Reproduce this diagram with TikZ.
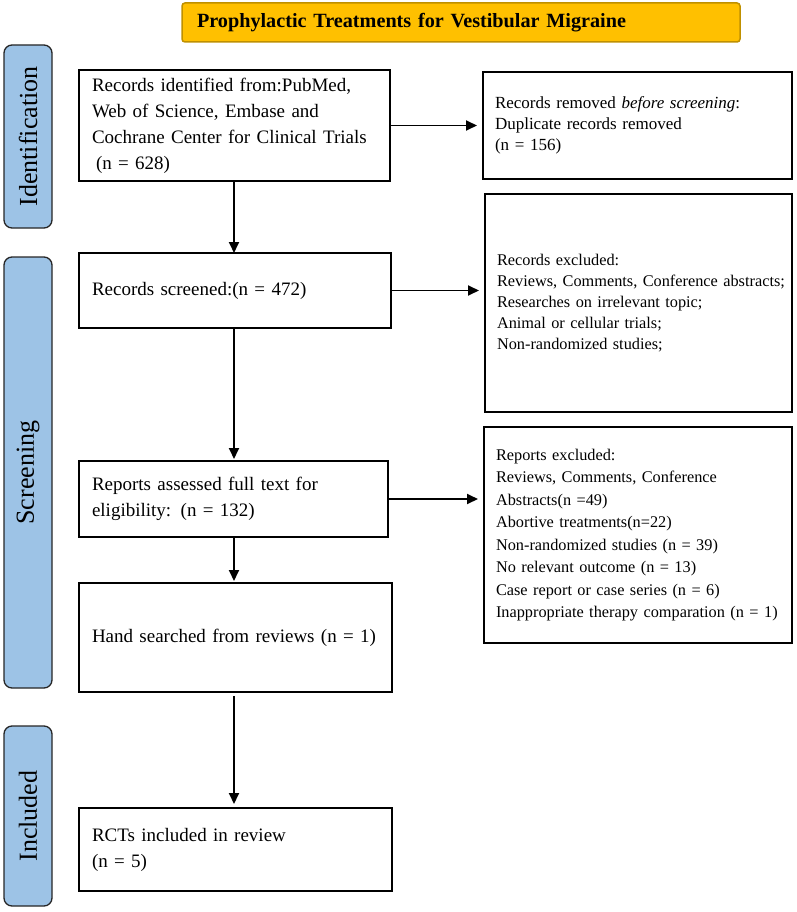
\documentclass[tikz,border=0pt]{standalone}
\usepackage{fontspec}
\setmainfont{Liberation Serif}
\usetikzlibrary{arrows.meta}
\definecolor{labelblue}{HTML}{9DC3E6}
\definecolor{titlegold}{HTML}{FFC000}
\definecolor{titleedge}{HTML}{BF9000}
\begin{document}
\begin{tikzpicture}[x=1pt,y=-1pt,
  flowbox/.style={draw=black, line width=1.8pt, rectangle, anchor=north west, align=left, inner xsep=0pt, inner ysep=0pt, outer sep=0pt},
  leftbox/.style={flowbox, font=\fontsize{19}{26}\selectfont},
  rightbox/.style={flowbox, font=\fontsize{16.3}{22}\selectfont},
  phase/.style={draw=black!85, line width=1.3pt, fill=labelblue, rounded corners=8pt, rectangle, anchor=north west, inner sep=0pt, outer sep=0pt, font=\fontsize{26}{30}\selectfont},
  titlebox/.style={draw=titleedge, line width=1.5pt, fill=titlegold, rounded corners=3pt, rectangle, anchor=north west, align=left, inner sep=0pt, outer sep=0pt, font=\fontsize{20.2}{24}\selectfont\bfseries},
  arr/.style={line width=1.8pt, -{Triangle[length=11pt,width=10pt]}}
]
\path[use as bounding box] (0,0) rectangle (796,912);

% title
\node[titlebox, minimum width=558, minimum height=39, text width=528] (title) at (182,3)
  {Prophylactic Treatments for Vestibular Migraine};

% phase labels
\node[phase, minimum width=48, minimum height=183] (pid) at (4,45) {\rotatebox{90}{Identification}};
\node[phase, minimum width=48, minimum height=431] (pscr) at (4,257) {\rotatebox{90}{Screening}};
\node[phase, minimum width=48, minimum height=180] (pinc) at (4,726) {\rotatebox{90}{Included}};

% left column
\node[leftbox, minimum width=311, minimum height=111, text width=285] (b1) at (79,70)
  {Records identified from:PubMed,\\Web of Science, Embase and\\\mbox{Cochrane Center for Clinical Trials}\\\hspace*{4pt}(n = 628)};
\node[leftbox, minimum width=312, minimum height=75, text width=286] (b2) at (79,253)
  {Records screened:(n = 472)};
\node[leftbox, minimum width=309, minimum height=76, text width=283] (b3) at (79,461)
  {Reports assessed full text for\\eligibility: (n = 132)};
\node[leftbox, minimum width=313, minimum height=109, text width=287] (b4) at (79,583)
  {\mbox{Hand searched from reviews (n = 1)}};
\node[leftbox, minimum width=313, minimum height=83, text width=287] (b5) at (79,808)
  {RCTs included in review\\(n = 5)};

% right column
\node[rightbox, font=\fontsize{17}{21}\selectfont, minimum width=309, minimum height=107, text width=285] (r1) at (483,72)
  {Records removed \textit{before screening}:\\Duplicate records removed\\(n = 156)};
\node[rightbox, font=\fontsize{16.3}{21}\selectfont, minimum width=307, minimum height=218, text width=283] (r2) at (485,194)
  {Records excluded:\\\mbox{Reviews, Comments, Conference abstracts;}\\Researches on irrelevant topic;\\Animal or cellular trials;\\Non-randomized studies;};
\node[rightbox, font=\fontsize{16.3}{22.5}\selectfont, minimum width=308, minimum height=216, text width=284] (r3) at (484,427)
  {Reports excluded:\\Reviews, Comments, Conference\\Abstracts(n =49)\\Abortive treatments(n=22)\\Non-randomized studies (n = 39)\\No relevant outcome (n = 13)\\Case report or case series (n = 6)\\\mbox{Inappropriate therapy comparation (n = 1)}};

% vertical connectors
\draw[arr] (b1.south -| 234,0) -- (b2.north -| 234,0);
\draw[arr, shorten >=2pt] (b2.south -| 234,0) -- (b3.north -| 234,0);
\draw[arr, shorten >=2pt] (b3.south -| 234,0) -- (b4.north -| 234,0);
\draw[arr, shorten <=4pt, shorten >=4pt] (b4.south -| 234,0) -- (b5.north -| 234,0);

% horizontal connectors
\draw[arr, shorten >=6pt] (b1.east) -- (b1.east -| r1.west);
\draw[arr, shorten >=6pt] (b2.east) -- (b2.east -| r2.west);
\draw[arr, shorten >=6pt] (b3.east) -- (b3.east -| r3.west);
\end{tikzpicture}
\end{document}
